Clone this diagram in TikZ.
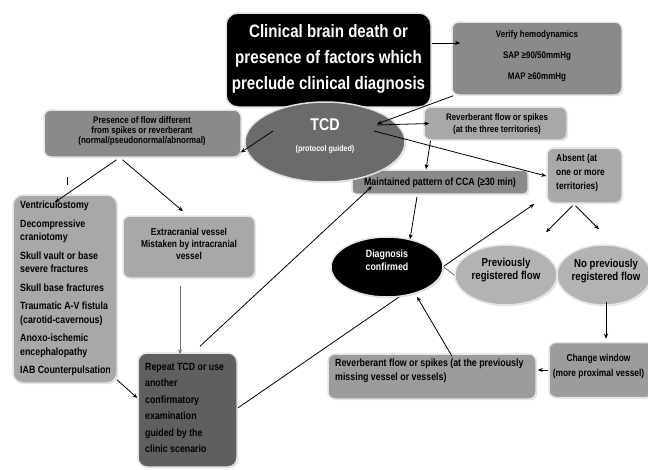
\documentclass[tikz,border=0pt]{standalone}
\usepackage{fontspec}
\setmainfont{Liberation Sans}[FakeStretch=0.84]
\usetikzlibrary{shapes.geometric,arrows.meta,shadows,calc}
\pgfdeclarelayer{bgfill}
\pgfdeclarelayer{background}
\pgfsetlayers{bgfill,background,main}
\definecolor{gDark}{HTML}{5F5F5F}
\definecolor{gTcd}{HTML}{6B6B6B}
\definecolor{gMid}{HTML}{8A8A8A}
\definecolor{gMid2}{HTML}{9C9C9C}
\definecolor{gLight}{HTML}{A8A8A8}
\definecolor{gOval}{HTML}{B3B3B3}
\definecolor{gEdge}{HTML}{E4E4E4}
\newcommand{\fs}[2]{\fontsize{#1}{#2}\selectfont}
\begin{document}
\begin{tikzpicture}[x=1pt,y=-1pt,
  box/.style={rectangle, rounded corners=7pt, draw=gEdge, line width=1.5pt,
    drop shadow={opacity=0.25, shadow xshift=1.2pt, shadow yshift=-1.2pt},
    inner sep=0pt, font=\bfseries},
  oval/.style={ellipse, draw=gEdge, line width=1.5pt, inner sep=0pt,
    drop shadow={opacity=0.25, shadow xshift=1.2pt, shadow yshift=-1.2pt}},
  lbl/.style={inner sep=0pt, font=\bfseries},
  conn/.style={-{Stealth[length=5pt,width=4pt]}, line width=0.8pt},
]
\begin{pgfonlayer}{bgfill}
\fill[white] (0,0) rectangle (648,469);
\end{pgfonlayer}
\useasboundingbox (0,0) rectangle (648,469);

% boxes
\node[box, fill=black, minimum width=205, minimum height=94, rounded corners=12pt] (title) at (328.5,60) {};
\node[lbl, text=white, align=center, font=\bfseries\fs{18}{26}] (titlet) at (328.5,59) {Clinical brain death or\\presence of factors which\\preclude clinical diagnosis};

\node[box, fill=gMid, minimum width=170, minimum height=73] (verify) at (537,58.5) {};
\node[lbl, align=center, font=\bfseries\fs{9.5}{21}] (verifyt) at (537,56) {Verify hemodynamics\\SAP ≥90/50mmHg\\MAP ≥60mmHg};

\node[box, fill=gMid, minimum width=197, minimum height=47] (presence) at (142.5,133.5) {};
\node[lbl, align=center, font=\bfseries\fs{9.5}{10}] (presencet) at (142,131.5) {Presence of flow different\\from spikes or reverberant\\(normal/pseudonormal/abnormal)};

\node[box, fill=gLight, minimum width=143, minimum height=33] (reverb) at (495.5,123.5) {};
\node[lbl, align=center, font=\bfseries\fs{9.5}{12}] (reverbt) at (497,124) {Reverberant flow or spikes\\(at the three territories)};

\node[box, fill=gLight, minimum width=75, minimum height=55] (absent) at (584.5,175.5) {};
\node[lbl, align=left, anchor=west, font=\bfseries\fs{10}{14}] (absentt) at (556,173) {Absent (at\\one or more\\territories)};

\node[box, fill=gMid, minimum width=176, minimum height=24, rounded corners=4pt] (maint) at (440,182) {};
\node[lbl, font=\bfseries\fs{10.5}{12}] (maintt) at (440,183) {Maintained pattern of CCA (≥30 min)};

\node[box, fill=gLight, minimum width=104, minimum height=188, rounded corners=10pt] (list) at (65,289) {};
\node[lbl, align=left, anchor=north west, font=\bfseries\fs{10.5}{13.5}] (listt) at (20,201) {Ventriculostomy\\[5pt]
Decompressive\\craniotomy\\[5pt]
Skull vault or base\\severe fractures\\[5pt]
Skull base fractures\\[5pt]
Traumatic A-V fistula\\(carotid-cavernous)\\[5pt]
Anoxo-ischemic\\encephalopathy\\[5pt]
IAB Counterpulsation};

\node[box, fill=gLight, minimum width=132, minimum height=62] (extra) at (189,247) {};
\node[lbl, align=center, font=\bfseries\fs{10}{12}] (extrat) at (189,244) {Extracranial vessel\\Mistaken by intracranial\\vessel};

\node[box, fill=gDark, minimum width=99, minimum height=114, rounded corners=9pt] (repeat) at (187.5,410) {};
\node[lbl, align=left, anchor=north west, font=\bfseries\fs{10.5}{16.4}] (repeatt) at (145,363) {Repeat TCD or use\\another\\confirmatory\\examination\\guided by the\\clinic scenario};

\node[box, fill=gMid2, minimum width=208, minimum height=45] (reverb2) at (432,376.5) {};
\node[lbl, align=left, anchor=west, font=\bfseries\fs{10.5}{14}] (reverb2t) at (335,371) {Reverberant flow or spikes (at the previously\\missing vessel or vessels)};

\node[box, fill=gMid2, minimum width=104, minimum height=55] (change) at (601,370) {};
\node[lbl, align=center, font=\bfseries\fs{10}{15}] (changet) at (598.5,366) {Change window\\(more proximal vessel)};

% ovals
\node[oval, fill=gTcd, minimum width=160, minimum height=80] (tcd) at (325,142) {};
\node[lbl, text=white, font=\bfseries\fs{17}{17}] (tcdt) at (325,125) {TCD};
\node[lbl, text=white, font=\bfseries\fs{8.5}{10}] (tcdp) at (325,149) {(protocol guided)};

\node[oval, fill=gOval, minimum width=102, minimum height=60] (prev) at (506,275) {};
\node[lbl, align=center, font=\bfseries\fs{11.5}{13}] (prevt) at (506,270) {Previously\\registered flow};

\node[oval, fill=gOval, minimum width=94, minimum height=60] (noprev) at (604,275) {};
\node[lbl, align=center, font=\bfseries\fs{11.5}{13}] (noprevt) at (606,271) {No previously\\registered flow};

% connector behind diag ellipse
\begin{pgfonlayer}{background}
\draw[conn] ([shift={(0,-2)}]repeat.east) -- ([shift={(-12,28.5)}]absent.west);
\end{pgfonlayer}

\node[oval, fill=black, minimum width=112, minimum height=60] (diag) at (387,267) {};
\node[lbl, text=white, align=center, font=\bfseries\fs{10.5}{13}] (diagt) at (387,260) {Diagnosis\\confirmed};

% connectors
\draw[conn] ([shift={(0,-17)}]title.east) -- ([shift={(9,-15.5)}]verify.west);
\draw[conn] ([shift={(2,0)}]verify.south west) -- ([shift={(52,-18)}]tcd.center);
\draw[conn] ([shift={(-52,-11)}]tcd.center) -- ([shift={(-1,19)}]presence.east);
\draw[conn] ([shift={(52,-17)}]tcd.center) -- ([shift={(6,0)}]reverb.west);
\draw[conn] ([shift={(49,-11)}]tcd.center) -- ([shift={(0,0.5)}]absent.west);
\draw[conn] ([shift={(-65,0)}]reverb.south) -- ([shift={(-14,0)}]maint.north);
\draw[conn] ([shift={(-23,2)}]maint.south) -- ([shift={(23,3)}]diag.north);
\draw[conn] ([shift={(-12,2)}]absent.south) -- ([shift={(40,-12)}]prev.north);
\draw[conn] ([shift={(-9,2)}]absent.south) -- ([shift={(-5,-15)}]noprev.north);
\draw[conn] ([shift={(-26,2)}]presence.south) -- ([shift={(-10,8)}]list.north);
\draw[conn] ([shift={(-20,2)}]presence.south) -- ([shift={(-6,-4)}]extra.north);
\draw[conn, draw=black!55] ([shift={(-9,7)}]extra.south) -- ([shift={(-7.5,2)}]repeat.north);
\draw[conn] ([shift={(52,-4)}]list.south) -- ([shift={(0,-12)}]repeat.west);
\draw[conn] ([shift={(12.5,-6)}]repeat.north) -- ([shift={(-68,17)}]maint.north);
\draw (diag.east) -- (prev.west);
\draw[conn] ([shift={(2,-4)}]noprev.south) -- ([shift={(5,-3)}]change.north);
\draw[conn] ([shift={(0,0)}]change.west) -- ([shift={(1,-6.5)}]reverb2.east);
\draw[conn] ([shift={(20,3)}]reverb2.north) -- ([shift={(30,-1)}]diag.south);
\coordinate (tickA) at (67,177);
\coordinate (tickB) at (67,185);
\draw[line width=0.9pt] (tickA) -- (tickB);
\end{tikzpicture}
\end{document}
